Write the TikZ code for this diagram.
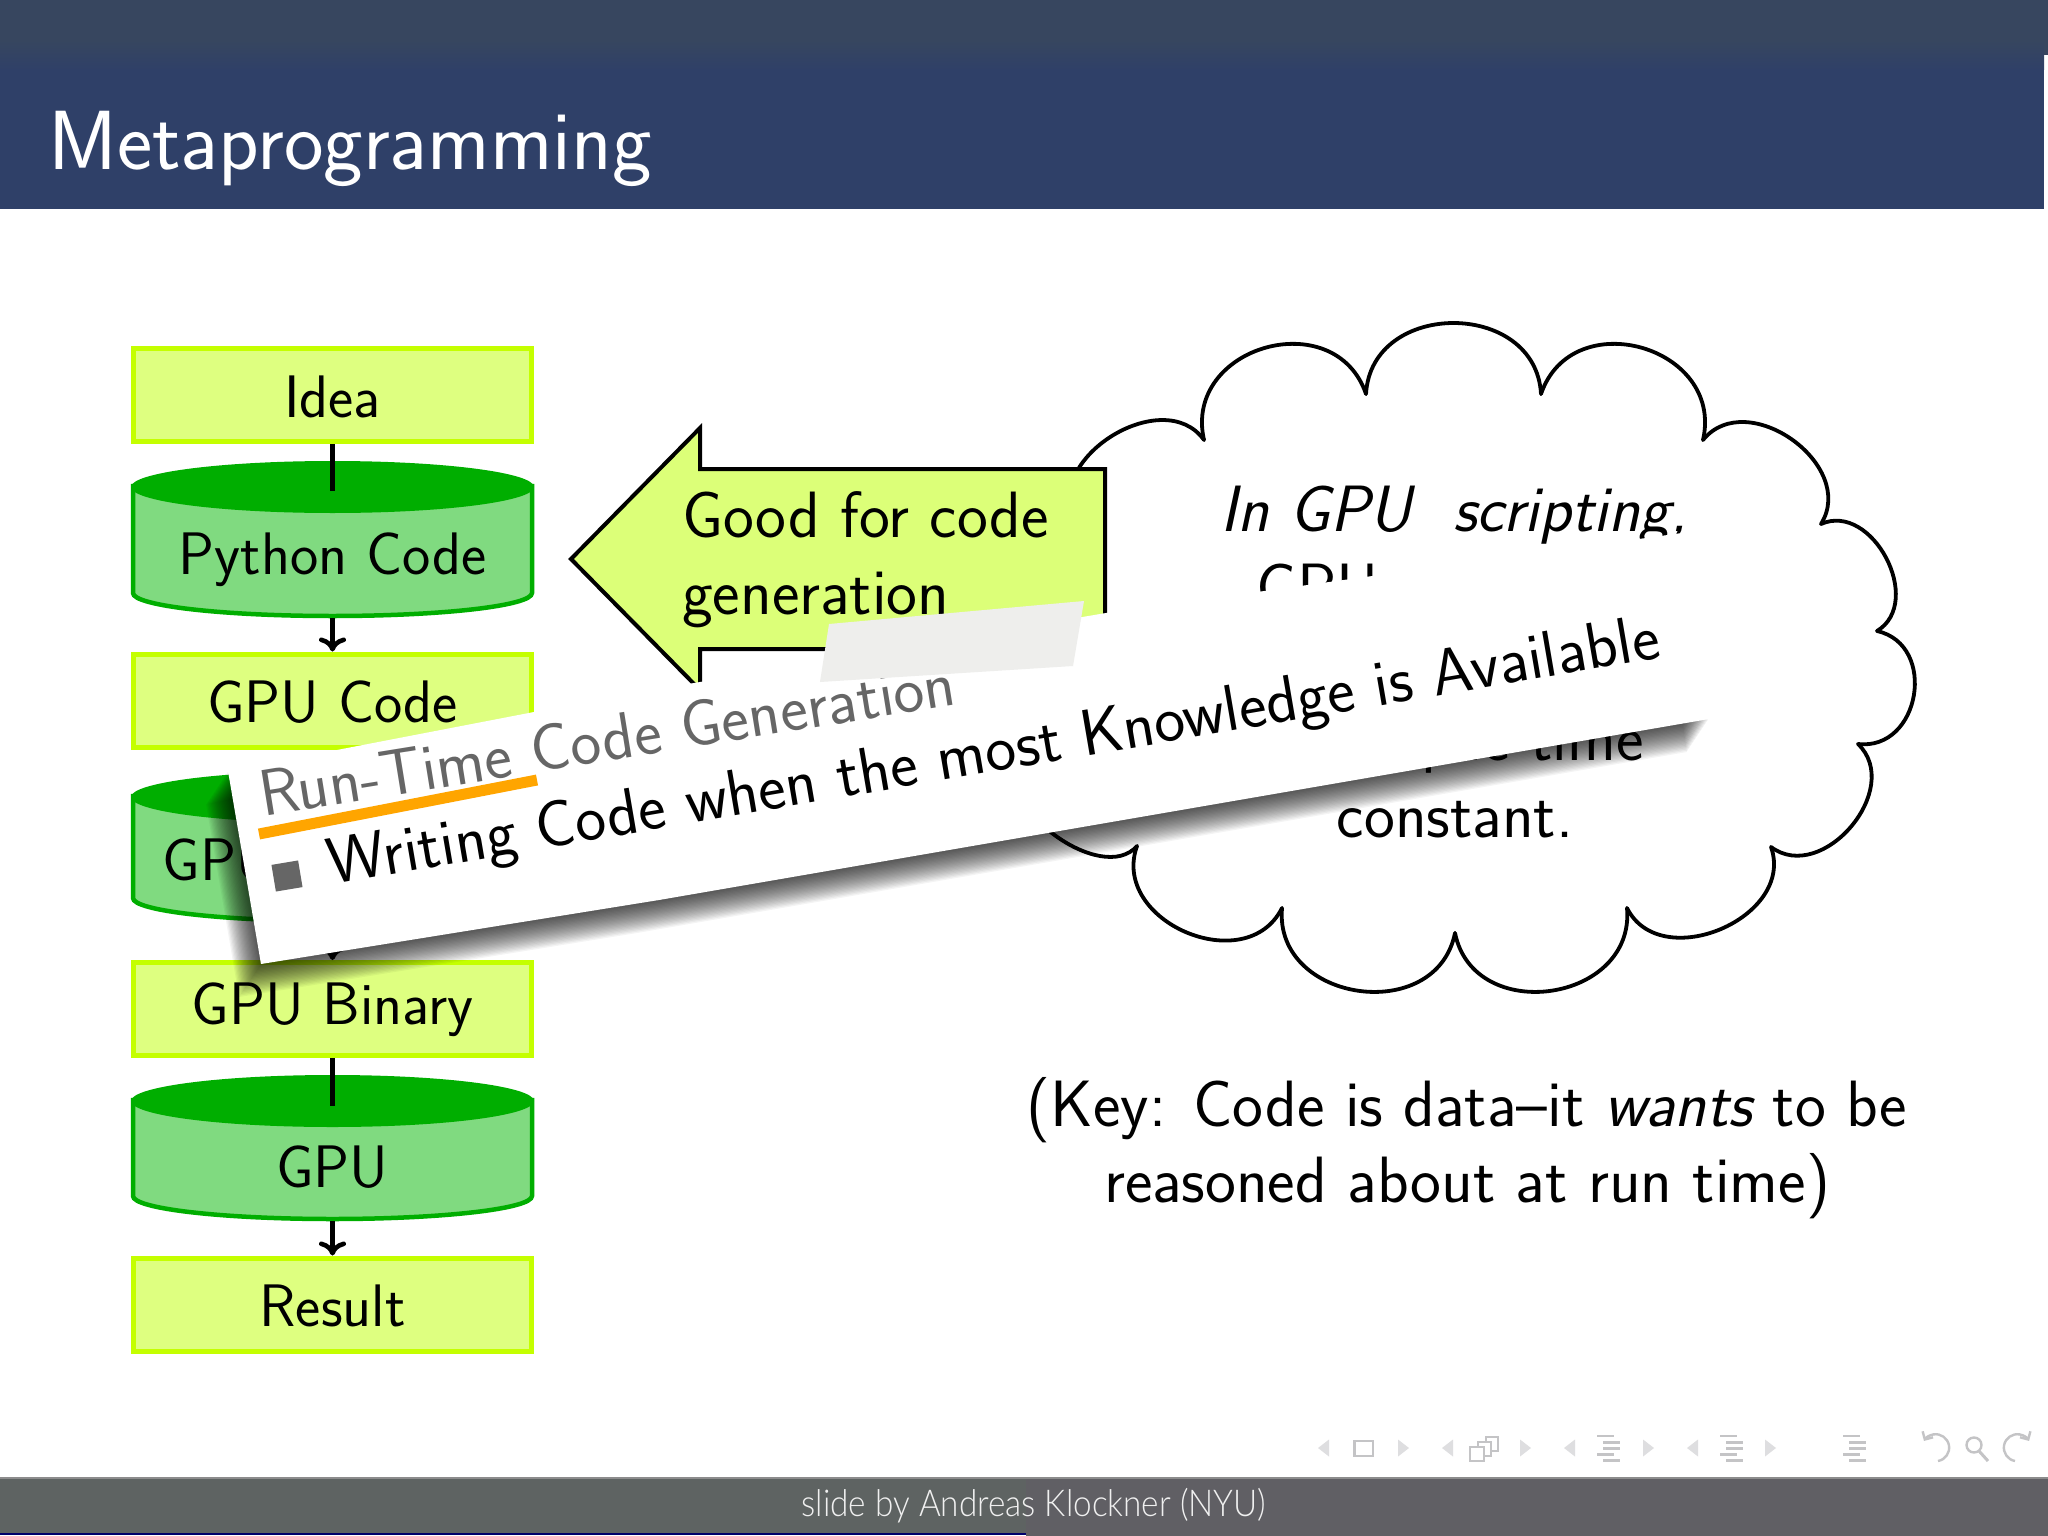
\documentclass[tikz,border=0pt]{standalone}
\usepackage{fontspec}
\usepackage{graphicx}
\usetikzlibrary{arrows.meta,calc}
\newfontfamily\footfont[UprightFont=* Light]{Lato}
\definecolor{hdA}{HTML}{37465F}
\definecolor{hdB}{HTML}{2F4068}
\definecolor{limeF}{HTML}{DEFF80}
\definecolor{limeD}{HTML}{C4FF00}
\definecolor{grnD}{HTML}{00AE00}
\definecolor{grnF}{HTML}{80DA80}
\definecolor{arrF}{HTML}{DCFF78}
\definecolor{ftA}{HTML}{5E6362}
\definecolor{ftB}{HTML}{605F64}
\definecolor{navT}{HTML}{DEDEE0}
\definecolor{navL}{HTML}{C4C4C6}
\definecolor{cardG}{HTML}{666666}
\definecolor{orangeU}{HTML}{FFA500}
\definecolor{patchG}{HTML}{EEEEEC}
\newcommand\bodyfont{\sffamily\fontsize{60}{76}\selectfont}
\newcommand\bigfont{\sffamily\fontsize{65.5}{76}\selectfont}
\tikzset{
 bx/.style={draw=limeD,fill=limeF,line width=5pt,minimum width=398pt,minimum height=93pt,inner sep=0pt,text height=50pt,text depth=6pt,font=\bodyfont},
 txt/.style={inner sep=0pt,font=\bodyfont},
 bigtxt/.style={inner sep=0pt,font=\bigfont},
 conn/.style={line width=4.6pt,black},
 connarr/.style={conn,-{Computer Modern Rightarrow[width=27pt,length=14pt]}},
 cloudline/.style={line width=3.8pt,black,line cap=round},
 navtri/.style={fill=navT,draw=none},
 navbar/.style={fill=navL,draw=none},
 navline/.style={draw=navL,line width=2.4pt},
}
% name, top, bottom, baseline, text
\newcommand\cyl[5]{%
 \pgfmathsetmacro\cmid{(#2+#3)/2}%
 \pgfmathsetmacro\ctop{#2+25}%
 \pgfmathsetmacro\ctopb{#2+26}%
 \pgfmathsetmacro\cbot{#3-25}%
 \pgfmathsetmacro\cht{#3-#2}%
 \filldraw[draw=grnD,fill=grnF,line width=4.5pt] (133,\ctop) -- (133,\cbot) arc[start angle=180,end angle=360,x radius=199.5pt,y radius=23pt] -- (532,\ctop) -- cycle;
 \fill[grnD] (332.5,\ctopb) ellipse[x radius=201.5pt,y radius=26pt];
 \node[inner sep=0pt,minimum width=403pt,minimum height=\cht pt] (#1) at (332.5,\cmid) {};
 \node[txt,anchor=base] (#1t) at (332.5,#4) {#5};
}
\newcommand\navtriL[2]{\fill[navtri] (#1,#2) -- (#1+11,#2-8.5) -- (#1+11,#2+8.5) -- cycle;}
\newcommand\navtriR[2]{\fill[navtri] (#1,#2-8.5) -- (#1+11,#2) -- (#1,#2+8.5) -- cycle;}
\newcommand\navbars[1]{%
 \fill[navbar] (#1,1434.5) rectangle ++(17,2.6);
 \fill[navbar] (#1+6,1441) rectangle ++(17,2.6);
 \fill[navbar] (#1+6,1447) rectangle ++(17,2.6);
 \fill[navbar] (#1,1453) rectangle ++(17,2.6);
 \fill[navbar] (#1+6,1459) rectangle ++(17,2.6);
}
\begin{document}
\begin{tikzpicture}[x=1pt,y=-1pt]
\useasboundingbox (0,0) rectangle (2048,1536);
\fill[white] (0,0) rectangle (2048,1536);
% header
\fill[hdB] (0,70) rectangle (2044,209);
\fill[hdA] (0,0) rectangle (2048,40);
\shade[top color=hdA,bottom color=hdB] (0,40) rectangle (2044,70);
\fill[hdA] (2044,40) rectangle (2048,55);
\node[inner sep=0pt,anchor=base west,text=white,font=\sffamily\fontsize{84}{90}\selectfont] (title) at (48,169) {Metaprogramming};
% footer
\fill[ftA] (0,1478) rectangle (1026,1534);
\fill[ftB] (1026,1478) rectangle (2048,1536);
\fill[black!30!blue!60!black] (0,1533) rectangle (1026,1535);
\fill[black!45] (0,1477) rectangle (2048,1479);
\node[inner sep=0pt,anchor=base,text=white!94!black,font=\footfont\fontsize{37}{40}\selectfont] (foot) at (1034,1516) {\scalebox{0.9}[1]{slide by Andreas Klockner (NYU)}};
% nav symbols
\navtriL{1318}{1448}\draw[navline] (1354.5,1441) rectangle (1373,1456);\navtriR{1398}{1448}
\navtriL{1442}{1448}
\draw[navline,fill=white] (1486,1437) rectangle (1498,1451);
\draw[navline,fill=white] (1478,1442) rectangle (1491,1456);
\draw[navline,fill=white] (1470,1447) rectangle (1484,1461);
\navtriR{1520}{1448}
\navtriL{1564}{1448}\navbars{1597}\navtriR{1643}{1448}
\navtriL{1687}{1448}\navbars{1720}\navtriR{1765}{1448}
\navbars{1843}
\draw[navline,-{Straight Barb[length=6pt,width=12pt]}] (1938,1461) arc[start angle=-80,end angle=150,radius=13.5pt];
\draw[navline] (1974,1445) circle[radius=7.5pt];
\draw[navline,line width=3pt] (1979,1451) -- (1988,1461);
\draw[navline,-{Straight Barb[length=6pt,width=12pt]}] (2015,1461) arc[start angle=260,end angle=30,radius=13.5pt];
% cloud
\foreach \ax/\ay/\bx/\by/\h in {1075/520/1204/440/52,1204/440/1366/394/72,1366/394/1541/394/71,1541/394/1703/440/72,1703/440/1821/524/52,1821/524/1877/631/42,1877/631/1858/744/47,1858/744/1771/847/48,1771/847/1627/908/56,1627/908/1455/933/71,1455/933/1282/908/71,1282/908/1137/846/60,1137/846/1020/760/40}{
 \pgfmathsetmacro\dx{\bx-\ax}\pgfmathsetmacro\dy{\by-\ay}
 \pgfmathsetmacro\dl{veclen(\dx,\dy)}
 \pgfmathsetmacro\nx{\dy/\dl}\pgfmathsetmacro\ny{-\dx/\dl}
 \pgfmathsetmacro\vx{\h*1.3333*\nx}\pgfmathsetmacro\vy{\h*1.3333*\ny}
 \draw[cloudline] (\ax,\ay) .. controls ({\ax+\vx+0.03*\dx},{\ay+\vy+0.03*\dy}) and ({\bx+\vx-0.03*\dx},{\by+\vy-0.03*\dy}) .. (\bx,\by);
}
\node[bigtxt,anchor=base] (c1) at (1454,531) {\slshape In GPU\ \ scripting,};
\node[bigtxt,anchor=base] (c2) at (1455,609) {GPU code does};
\node[bigtxt,anchor=base] (c3) at (1454,684) {not need to be};
\node[bigtxt,anchor=base] (c4) at (1454,760) {a compile-time};
\node[bigtxt,anchor=base] (c5) at (1455,837) {constant.};
% key text
\node[bigtxt,anchor=base] (k1) at (1467,1126) {(Key: Code is data--it {\slshape wants} to be};
\node[bigtxt,anchor=base] (k2) at (1467,1202) {reasoned about at run time)};
% block arrow
\filldraw[fill=arrF,draw=black,line width=4pt,line join=miter] (571,559) -- (700,428) -- (700,469) -- (1105,469) -- (1105,649) -- (700,649) -- (700,690) -- cycle;
\node[bigtxt,anchor=base west] (a1) at (682,537) {Good for code};
\node[bigtxt,anchor=base west] (a2) at (682,614) {generation};
% flow
\node[bx] (idea) at (332.5,395) {Idea};
\cyl{py}{461}{618}{574}{Python Code}
\node[bx] (gcode) at (332.5,700.5) {GPU Code};
\cyl{comp}{771}{923}{880}{GPU Compiler}
\node[bx,text depth=20pt] (gbin) at (332.5,1009) {GPU Binary};
\cyl{gpu}{1075}{1221}{1187}{GPU}
\node[bx] (res) at (332.5,1304.5) {Result};
\coordinate (pyin) at (332.5,491);
\coordinate (gpuin) at (332.5,1106);
\draw[conn] (idea.south) -- (pyin);
\draw[connarr] (py.south) -- (gcode.north);
\draw[connarr] (comp.south) -- (gbin.north);
\draw[conn] (gbin.south) -- (gpuin);
\draw[connarr] (gpu.south) -- (res.north);
% card shadow
\foreach \i in {1,...,22}{
 \fill[black,opacity=0.042,shift={(-\i*1.0,\i*1.5)}] (228,771) -- (534,712) -- (600,699) -- (1106,613) -- (1682,533) -- (1709,719) -- (659,900) -- (261,964) -- cycle;
}
% card
\fill[white] (228,771) -- (534,712) -- (600,699) -- (1106,613) -- (1682,533) -- (1709,719) -- (659,900) -- (261,964) -- cycle;
\node[bigtxt,anchor=base west,rotate=9.2,text=cardG] (h) at (263,817) {Run-Time Code Generation};
\draw[line width=11pt,color=orangeU] (259,834) -- (537,780);
\node[rotate=9.5,fill=cardG,minimum size=27pt,inner sep=0pt] (bul) at (287,876) {};
\node[bigtxt,anchor=base west,rotate=9.7] (w) at (331,885) {Writing Code when the most Knowledge is Available};
% patch
\fill[patchG] (829,624) -- (1084,601) -- (1073,666) -- (820,682) -- cycle;
\end{tikzpicture}
\end{document}
